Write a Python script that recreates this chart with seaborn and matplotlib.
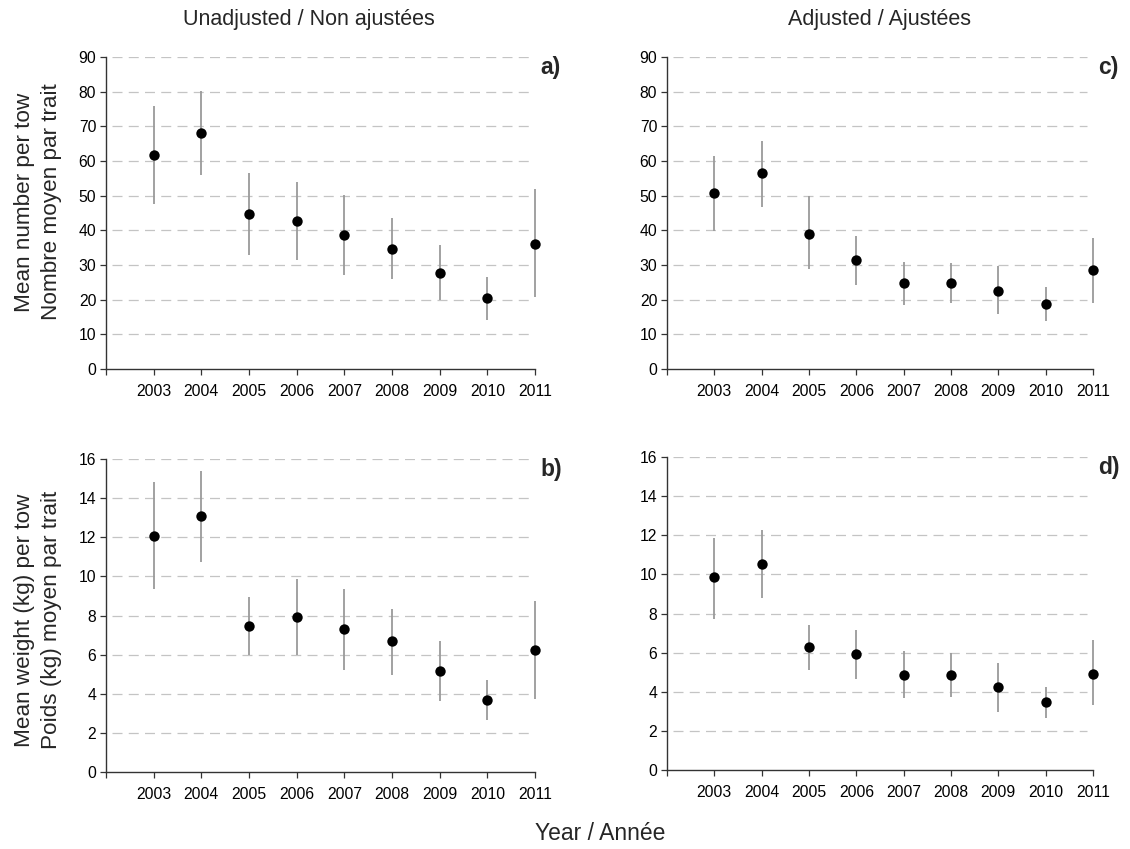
import numpy as np
import pandas as pd
import matplotlib
matplotlib.use("Agg")
import matplotlib.pyplot as plt
import seaborn as sns

years = [2003, 2004, 2005, 2006, 2007, 2008, 2009, 2010, 2011]

# a) Unadjusted mean number per tow
num_unadj = [61.7, 68.2, 44.8, 42.6, 38.7, 34.7, 27.8, 20.5, 36.1]
num_unadj_lo = [47.7, 55.9, 32.8, 31.5, 27.2, 25.9, 20.0, 14.0, 20.7]
num_unadj_hi = [75.8, 80.1, 56.6, 54.0, 50.1, 43.6, 35.7, 26.6, 51.8]

# c) Adjusted mean number per tow
num_adj = [50.9, 56.4, 39.0, 31.3, 24.7, 24.7, 22.6, 18.8, 28.7]
num_adj_lo = [39.8, 46.7, 28.9, 24.1, 18.6, 18.9, 16.0, 13.8, 18.9]
num_adj_hi = [61.3, 65.8, 49.8, 38.3, 31.0, 30.5, 29.7, 23.7, 37.9]

# b) Unadjusted mean weight per tow
wt_unadj = [12.08, 13.09, 7.46, 7.92, 7.30, 6.69, 5.15, 3.69, 6.23]
wt_unadj_lo = [9.35, 10.73, 5.96, 5.96, 5.19, 4.97, 3.63, 2.65, 3.74]
wt_unadj_hi = [14.81, 15.41, 8.94, 9.86, 9.33, 8.33, 6.72, 4.71, 8.72]

# d) Adjusted mean weight per tow
wt_adj = [9.85, 10.53, 6.30, 5.91, 4.84, 4.84, 4.23, 3.46, 4.92]
wt_adj_lo = [7.74, 8.81, 5.11, 4.65, 3.66, 3.75, 2.97, 2.65, 3.31]
wt_adj_hi = [11.88, 12.25, 7.39, 7.17, 6.10, 6.00, 5.47, 4.24, 6.63]

col_titles = ["Unadjusted / Non ajustées", "Adjusted / Ajustées"]
ylabel_num = "Mean number per tow\nNombre moyen par trait"
ylabel_wt = "Mean weight (kg) per tow\nPoids (kg) moyen par trait"
xlabel = "Year / Année"
panel_labels = ["a)", "b)", "c)", "d)"]

sns.set_theme(style="white")
plt.rcParams["font.family"] = ["Liberation Sans", "DejaVu Sans"]

W, H = 1130, 849
fig = plt.figure(figsize=(W / 100, H / 100), dpi=100)


def rect(l, r, t, b):
    return [l / W, 1 - b / H, (r - l) / W, (b - t) / H]


panels = [
    (rect(106, 535, 57, 369), num_unadj, num_unadj_lo, num_unadj_hi, 90, 10, panel_labels[0]),
    (rect(106, 535, 459, 772), wt_unadj, wt_unadj_lo, wt_unadj_hi, 16, 2, panel_labels[1]),
    (rect(667, 1093, 57, 369), num_adj, num_adj_lo, num_adj_hi, 90, 10, panel_labels[2]),
    (rect(667, 1093, 457, 770), wt_adj, wt_adj_lo, wt_adj_hi, 16, 2, panel_labels[3]),
]

for r, mean, lo, hi, ymax, step, lab in panels:
    ax = fig.add_axes(r)
    df = pd.DataFrame({"year": years, "mean": mean, "lo": lo, "hi": hi})
    ax.vlines(df["year"], df["lo"], df["hi"], color="#9a9a9a", lw=1.3,
              zorder=2, clip_on=False)
    sns.scatterplot(data=df, x="year", y="mean", ax=ax, color="black", s=56,
                    edgecolor="black", linewidth=0, zorder=3, clip_on=False)
    ax.set_xlim(2002, 2011)
    ax.set_ylim(0, ymax)
    ax.set_xticks(range(2002, 2012))
    ax.set_xticklabels([""] + [str(y) for y in years])
    yt = np.arange(0, ymax + step / 2, step)
    ax.set_yticks(yt)
    ax.set_yticklabels([str(int(v)) for v in yt])
    for v in yt[1:]:
        ax.axhline(v, xmin=0.015, xmax=0.985, color="#c4c4c4", lw=0.9,
                   ls=(0, (8, 5)), zorder=1)
    ax.set_xlabel("")
    ax.set_ylabel("")
    for s in ["top", "right"]:
        ax.spines[s].set_visible(False)
    for s in ["left", "bottom"]:
        ax.spines[s].set_color("#333333")
        ax.spines[s].set_linewidth(1.0)
    ax.tick_params(axis="both", which="both", direction="out", length=4,
                   width=0.9, color="#333333", labelsize=11.3, labelcolor="black",
                   left=True, bottom=True)
    ax.tick_params(axis="x", pad=7)
    ax.tick_params(axis="y", pad=3)
    ax.text(1.012, 0.965, lab, transform=ax.transAxes, fontsize=16.5,
            fontweight="bold", ha="left", va="center")

fig.text(309 / W, 1 - 19 / H, col_titles[0], ha="center", va="center", fontsize=15.5)
fig.text(880 / W, 1 - 19 / H, col_titles[1], ha="center", va="center", fontsize=15.5)
fig.text(38 / W, 1 - 202 / H, ylabel_num, rotation=90, ha="center", va="center",
         fontsize=16.2, multialignment="center", linespacing=1.35)
fig.text(38 / W, 1 - 620 / H, ylabel_wt, rotation=90, ha="center", va="center",
         fontsize=16.2, multialignment="center", linespacing=1.35)
fig.text(600 / W, 1 - 834 / H, xlabel, ha="center", va="center", fontsize=16.5)

fig.savefig("out.png", dpi=100, facecolor="white")
